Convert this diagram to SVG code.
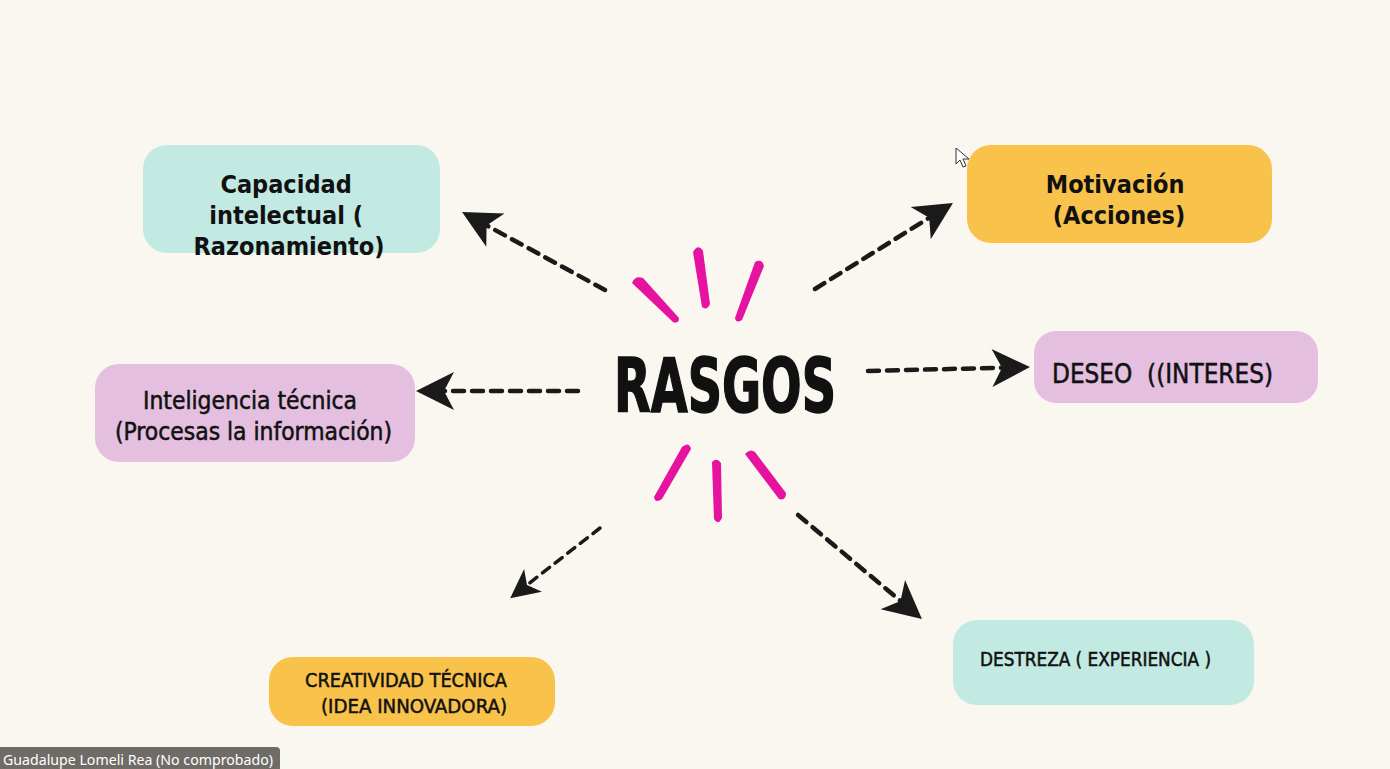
<svg xmlns="http://www.w3.org/2000/svg" width="1390" height="769" viewBox="0 0 1390 769">
  <defs>
    <style>
      .box-mint { fill: #c2eae2; }
      .box-gold { fill: #f8c24b; }
      .box-pink { fill: #e4bfe0; }
      .lbl { font-family: "DejaVu Sans", "Liberation Sans", sans-serif; font-stretch: condensed; fill: #111; }
      .lbl-b { font-weight: bold; }
      .lbl-m { stroke: #111; stroke-width: 0.5; }
      .link { fill: none; stroke: #1a1a1a; stroke-width: 4.5; stroke-dasharray: 11 8; stroke-linecap: round; }
      .link-thin { stroke-width: 3.5; stroke-dasharray: 9 7; }
      .ray { fill: #e5139f; }
    </style>
    <marker id="head" viewBox="-12 -21 42 42" refX="0" refY="0" markerWidth="42" markerHeight="42" markerUnits="userSpaceOnUse" orient="auto">
      <path d="M28,0 L-10,-19 L0,0 L-10,19 Z" fill="#1a1a1a"/>
    </marker>
    <marker id="head-sm" viewBox="-12 -21 42 42" refX="0" refY="0" markerWidth="32" markerHeight="32" markerUnits="userSpaceOnUse" orient="auto">
      <path d="M28,0 L-10,-19 L0,0 L-10,19 Z" fill="#1a1a1a"/>
    </marker>
  </defs>

  <rect width="1390" height="769" fill="#faf7f1"/>

  <!-- dashed connectors from the centre -->
  <g id="connectors">
    <path class="link" d="M605,290 L486.6,225.4" marker-end="url(#head)"/>
    <path class="link" d="M815,289 L929.2,217.8" marker-end="url(#head)"/>
    <path class="link" d="M578,391 L444,391" marker-end="url(#head)"/>
    <path class="link" d="M868,371 L1002,367.7" marker-end="url(#head)"/>
    <path class="link link-thin" d="M600,528 L527,585" marker-end="url(#head-sm)"/>
    <path class="link" d="M798,515 L900.5,601" marker-end="url(#head)"/>
  </g>

  <!-- central node with brush rays -->
  <g id="rasgos">
    <path class="ray" d="M632,283 Q635,275 643,278 L679,318 Q679,324 673,322 Z"/>
    <path class="ray" d="M693,252 Q698,243 703,251 L710,304 Q707,311 702,307 Z"/>
    <path class="ray" d="M755,262 Q762,258 764,266 L742,320 Q736,324 735,318 Z"/>
    <path class="ray" d="M682,447 Q689,441 691,449 L662,499 Q655,504 654,497 Z"/>
    <path class="ray" d="M712,462 Q717,457 721,463 L722,518 Q718,526 714,519 Z"/>
    <path class="ray" d="M745,454 Q750,448 755,452 L786,493 Q786,501 779,499 Z"/>
    <text class="lbl lbl-b" x="725" y="412" font-size="74" text-anchor="middle" textLength="222" lengthAdjust="spacingAndGlyphs" stroke="#111" stroke-width="1.5">RASGOS</text>
  </g>

  <g id="capacidad">
    <rect class="box-mint" x="143" y="145" width="297" height="108" rx="24"/>
    <text class="lbl lbl-b" font-size="25" text-anchor="middle">
      <tspan x="290" y="193">Capacidad</tspan>
      <tspan x="290" y="224">intelectual (</tspan>
      <tspan x="289" y="255">Razonamiento)</tspan>
    </text>
  </g>

  <g id="motivacion">
    <rect class="box-gold" x="967" y="145" width="305" height="98" rx="24"/>
    <text class="lbl lbl-b" font-size="25" text-anchor="middle">
      <tspan x="1119" y="193">Motivación</tspan>
      <tspan x="1119" y="224">(Acciones)</tspan>
    </text>
  </g>

  <g id="inteligencia">
    <rect class="box-pink" x="95" y="364" width="320" height="98" rx="24"/>
    <text class="lbl lbl-m" font-size="24">
      <tspan x="143" y="409" textLength="214" lengthAdjust="spacingAndGlyphs">Inteligencia técnica</tspan>
      <tspan x="115" y="440" textLength="277" lengthAdjust="spacingAndGlyphs">(Procesas la información)</tspan>
    </text>
  </g>

  <g id="deseo">
    <rect class="box-pink" x="1034" y="331" width="284" height="72" rx="22"/>
    <text class="lbl lbl-m" x="1052" y="383" font-size="26" textLength="221" lengthAdjust="spacingAndGlyphs" xml:space="preserve" stroke-width="0.9">DESEO  ((INTERES)</text>
  </g>

  <g id="creatividad">
    <rect class="box-gold" x="269" y="657" width="286" height="69" rx="24"/>
    <text class="lbl lbl-m" font-size="20" stroke-width="0.7">
      <tspan x="305" y="687" textLength="202" lengthAdjust="spacingAndGlyphs">CREATIVIDAD TÉCNICA</tspan>
      <tspan x="321" y="713" textLength="186" lengthAdjust="spacingAndGlyphs">(IDEA INNOVADORA)</tspan>
    </text>
  </g>

  <g id="destreza">
    <rect class="box-mint" x="953" y="620" width="301" height="85" rx="24"/>
    <text class="lbl lbl-m" x="980" y="666" font-size="19" textLength="231" lengthAdjust="spacingAndGlyphs" stroke-width="0.7">DESTREZA ( EXPERIENCIA )</text>
  </g>

  <!-- pointer cursor -->
  <path d="M956,148 L956,164 L960,160 L963,167 L966,166 L963,159 L969,159 Z" fill="#ffffff" stroke="#333" stroke-width="1"/>

  <!-- name tag -->
  <g id="name-tag">
    <path d="M0,747 L276,747 Q280,747 280,751 L280,769 L0,769 Z" fill="#6f6c68"/>
    <text x="3" y="765" font-family="'Noto Sans', 'Open Sans', sans-serif" font-size="14.5" fill="#ffffff" textLength="270" lengthAdjust="spacingAndGlyphs">Guadalupe Lomeli Rea (No comprobado)</text>
  </g>
</svg>
